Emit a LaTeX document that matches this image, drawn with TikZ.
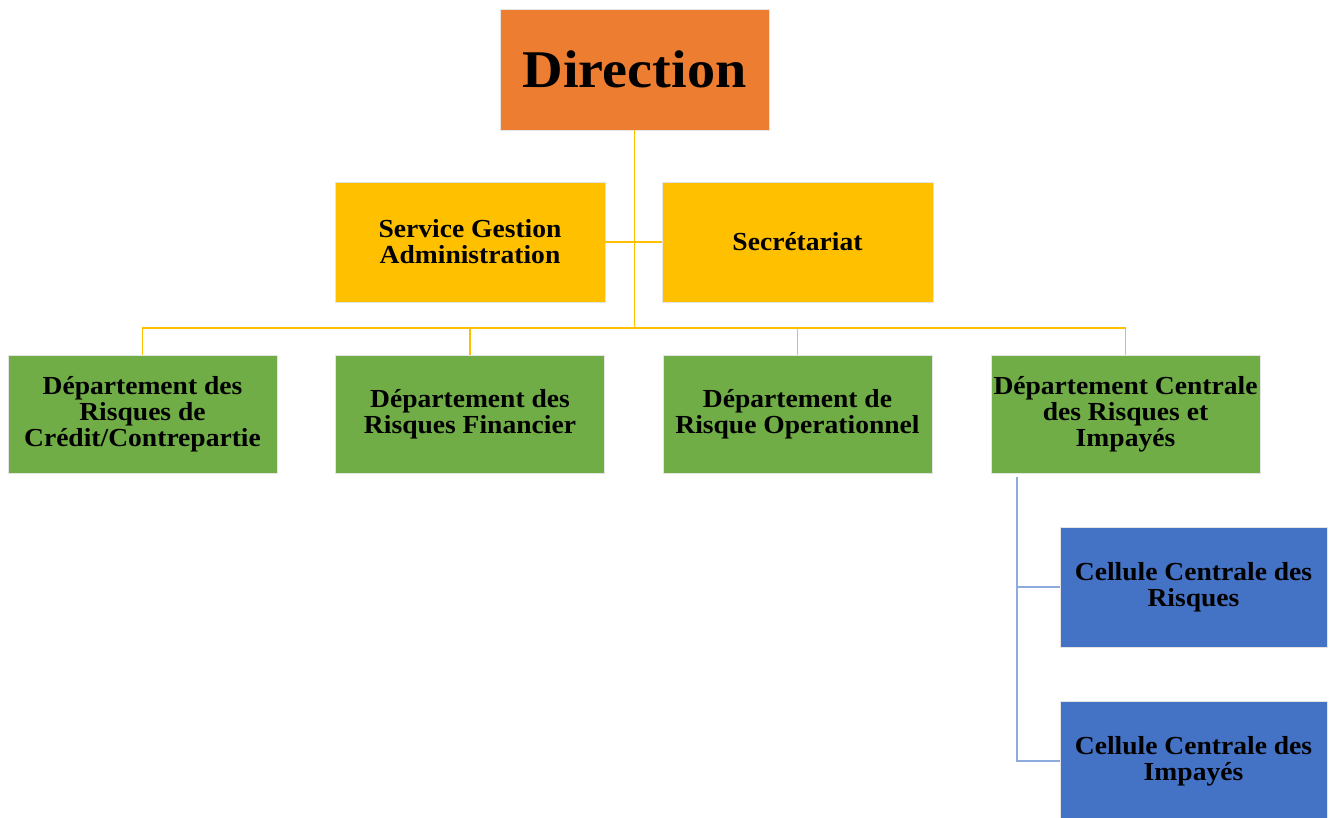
\documentclass[tikz,border=0pt]{standalone}
\usepackage{fontspec}
\setmainfont[FakeStretch=1.06]{Liberation Serif}
\definecolor{dirorange}{HTML}{ED7D31}
\definecolor{servyellow}{HTML}{FFC000}
\definecolor{deptgreen}{HTML}{70AD47}
\definecolor{cellblue}{HTML}{4472C4}
\definecolor{bluelink}{HTML}{8FAADC}
\definecolor{boxedge}{HTML}{E4E4E4}
\begin{document}
\begin{tikzpicture}[x=1pt,y=-1pt,
  box/.style={draw=boxedge,line width=0.8pt,minimum width=269pt,minimum height=120pt,inner sep=0pt,
    align=center,font=\bfseries\fontsize{26}{26}\selectfont,text=black},
  yline/.style={draw=servyellow,line width=1.8pt},
  bline/.style={draw=bluelink,line width=2pt}]
\useasboundingbox (0,0) rectangle (1333,817);
\node[box,fill=dirorange,minimum height=121pt,font=\bfseries\fontsize{53}{53}\selectfont] (dir) at (634.5,69.5) {Direction};
\node[box,fill=servyellow,minimum width=270pt] (sga) at (470,242) {Service Gestion\\Administration};
\node[box,fill=servyellow,minimum width=271pt] (sec) at (797.5,242) {Secrétariat};
\node[box,fill=deptgreen,minimum height=118pt] (g1) at (142.5,414) {Département des\\Risques de\\Crédit/Contrepartie};
\node[box,fill=deptgreen,minimum height=118pt] (g2) at (470,414) {Département des\\Risques Financier};
\node[box,fill=deptgreen,minimum height=118pt] (g3) at (797.5,414) {Département de\\Risque Operationnel};
\node[box,fill=deptgreen,minimum height=118pt] (g4) at (1125.5,414) {Département Centrale\\des Risques et\\Impayés};
\node[box,fill=cellblue,minimum width=267pt] (c1) at (1193.5,587) {Cellule Centrale des\\Risques};
\node[box,fill=cellblue,minimum width=267pt] (c2) at (1193.5,761) {Cellule Centrale des\\Impayés};
% yellow connectors
\coordinate (bus) at (634.5,328);
\draw[yline] (dir.south) -- (bus);
\draw[yline] (sga.east) -- (sec.west);
\draw[yline] (g1.north) |- (bus) -| (g4.north);
\draw[yline] (g2.north) -- (g2.north |- bus);
\draw[yline] (g3.north) -- (g3.north |- bus);
% blue connectors
\coordinate (btop) at (1017,477);
\coordinate (bbot) at (1017,761);
\draw[bline] (btop) -- (bbot) -- (c2.west);
\draw[bline] (btop |- c1.west) -- (c1.west);
\end{tikzpicture}
\end{document}
